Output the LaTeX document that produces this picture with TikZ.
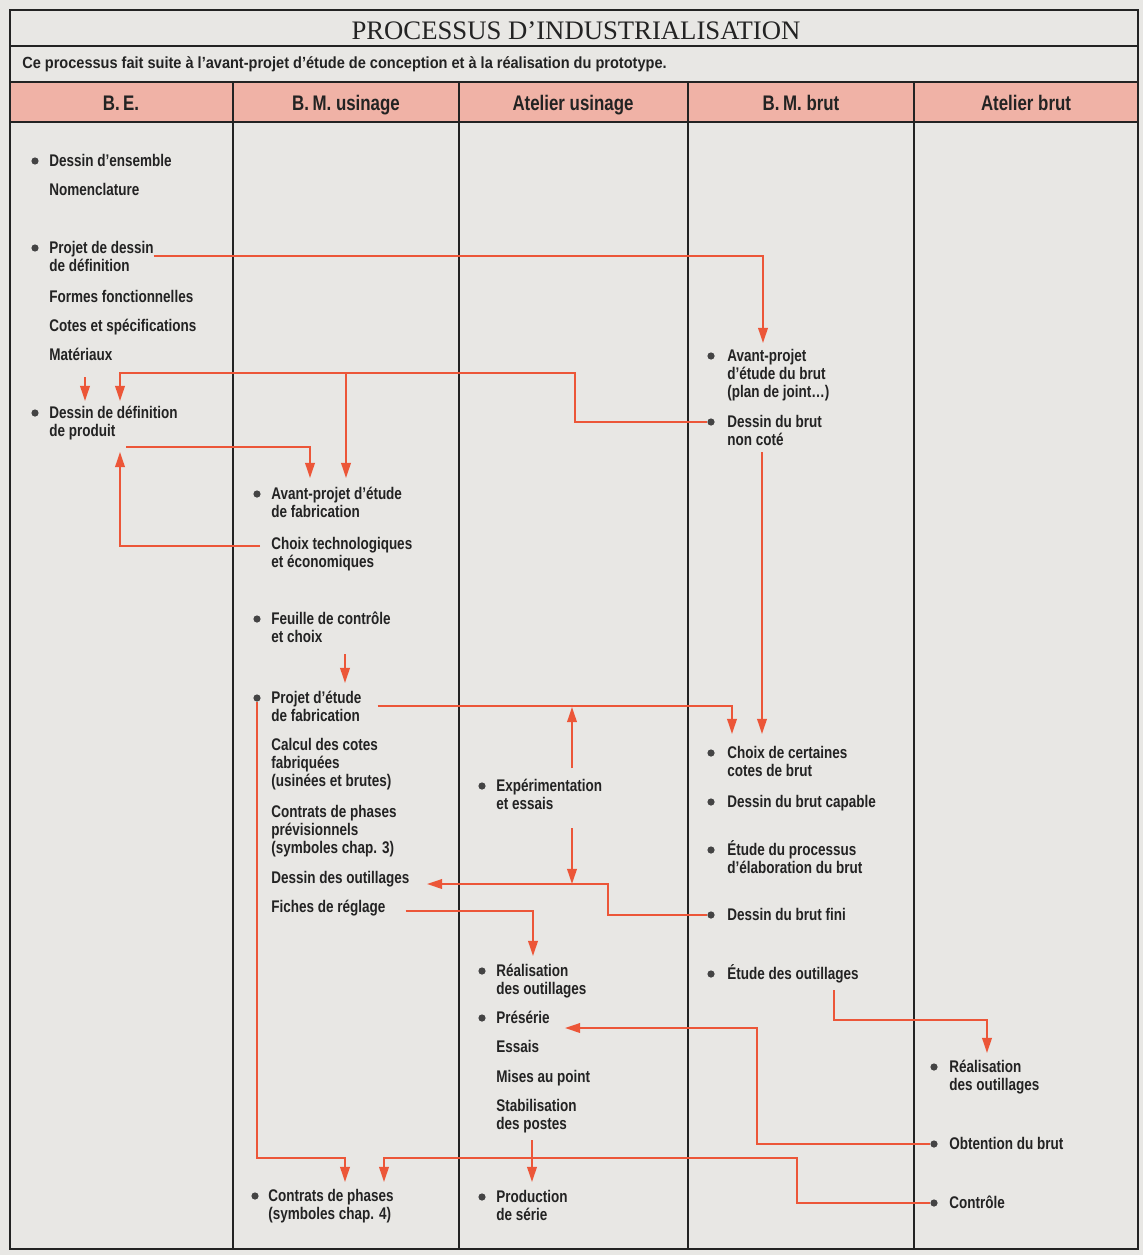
\documentclass[tikz,border=0pt]{standalone}
\usepackage{fontspec}
\setmainfont{Liberation Serif}
\newfontfamily\condsans[FakeStretch=0.8]{Liberation Sans}
\newfontfamily\widesans[FakeStretch=0.9]{Liberation Sans}
\usetikzlibrary{calc}
\usetikzlibrary{arrows.meta}
\definecolor{mypaper}{RGB}{232,231,228}
\definecolor{mypink}{RGB}{240,178,166}
\definecolor{myred}{RGB}{236,86,56}
\definecolor{myink}{RGB}{35,35,35}
\tikzset{>={Triangle[length=3.8mm,width=2.4mm]}}
\tikzset{
    txt/.style={anchor=base west, align=left, inner sep=0pt, text=myink,
        font=\condsans\bfseries\fontsize{12}{12.8}\selectfont},
    head/.style={anchor=base, inner sep=0pt, text=myink,
        font=\condsans\bfseries\fontsize{15}{15}\selectfont},
    dot/.style={circle, fill=myink!85, inner sep=0pt, minimum size=1.8mm},
    flow/.style={->, myred, line width=0.5mm},
    rule/.style={myink, line width=0.7mm},
    sep/.style={myink, line width=0.35mm}
}

\begin{document}
\begin{tikzpicture}[x=0.25mm, y=-0.25mm]

    \fill[mypaper] (0,0) rectangle (1143,1255);
    \fill[mypink] (10,82) rectangle (1138,122);
    \draw[rule] (10,10) rectangle (1138,1249);
    \draw[rule] (10,46) -- (1138,46);
    \draw[rule] (10,82) -- (1138,82);
    \draw[rule] (10,122) -- (1138,122);
    \foreach \cx in {233,459,688,914}
        \draw[sep] (\cx,82) -- (\cx,1249);

    \node[anchor=base, inner sep=0pt, text=myink, font=\fontsize{19}{19}\selectfont] (title) at (576,40) {PROCESSUS D’INDUSTRIALISATION};
    \node[txt, font=\widesans\bfseries\fontsize{11.5}{11.5}\selectfont] (intro) at (22,69) {Ce processus fait suite à l’avant-projet d’étude de conception et à la réalisation du prototype.};

    \node[head] (h1) at (121,110) {B.\,E.};
    \node[head] (h2) at (346,110) {B.\,M. usinage};
    \node[head] (h3) at (573,110) {Atelier usinage};
    \node[head] (h4) at (801,110) {B.\,M. brut};
    \node[head] (h5) at (1026,110) {Atelier brut};

    % B.E. (text nodes sit on the baseline of their last line)
    \node[dot] (ens-b) at (35,161) {};
    \node[txt] (ens) at (49,166) {Dessin d’ensemble};
    \node[txt] (nom) at (49,195) {Nomenclature};
    \node[dot] (pdd-b) at (35,248) {};
    \node[txt] (pdd) at (49,271) {Projet de dessin\\de définition};
    \node[txt] (ffo) at (49,302) {Formes fonctionnelles};
    \node[txt] (cot) at (49,331) {Cotes et spécifications};
    \node[txt] (mat) at (49,360) {Matériaux};
    \node[dot] (ddp-b) at (35,413) {};
    \node[txt] (ddp) at (49,436) {Dessin de définition\\de produit};

    % B.M. usinage
    \node[dot] (apf-b) at (257,494) {};
    \node[txt] (apf) at (271,517) {Avant-projet d’étude\\de fabrication};
    \node[txt] (ctc) at (271,567) {Choix technologiques\\et économiques};
    \node[dot] (fdc-b) at (257,619) {};
    \node[txt] (fdc) at (271,642) {Feuille de contrôle\\et choix};
    \node[dot] (pef-b) at (257,698) {};
    \node[txt] (pef) at (271,721) {Projet d’étude\\de fabrication};
    \node[txt] (cal) at (271,786) {Calcul des cotes\\fabriquées\\(usinées et brutes)};
    \node[txt] (cpp) at (271,853) {Contrats de phases\\prévisionnels\\(symboles chap. 3)};
    \node[txt] (ddo) at (271,883) {Dessin des outillages};
    \node[txt] (fdr) at (271,912) {Fiches de réglage};
    \node[dot] (cph-b) at (255,1196) {};
    \node[txt] (cph) at (268,1219) {Contrats de phases\\(symboles chap. 4)};

    % Atelier usinage
    \node[dot] (exp-b) at (482,786) {};
    \node[txt] (exp) at (496,809) {Expérimentation\\et essais};
    \node[dot] (rea-b) at (482,971) {};
    \node[txt] (rea) at (496,994) {Réalisation\\des outillages};
    \node[dot] (pre-b) at (482,1018) {};
    \node[txt] (pre) at (496,1023) {Présérie};
    \node[txt] (ess) at (496,1052) {Essais};
    \node[txt] (map) at (496,1082) {Mises au point};
    \node[txt] (sta) at (496,1129) {Stabilisation\\des postes};
    \node[dot] (pro-b) at (482,1197) {};
    \node[txt] (pro) at (496,1220) {Production\\de série};

    % B.M. brut
    \node[dot] (apb-b) at (711,356) {};
    \node[txt] (apb) at (727,397) {Avant-projet\\d’étude du brut\\(plan de joint…)};
    \node[dot] (dbn-b) at (711,422) {};
    \node[txt] (dbn) at (727,445) {Dessin du brut\\non coté};
    \node[dot] (ccb-b) at (711,753) {};
    \node[txt] (ccb) at (727,776) {Choix de certaines\\cotes de brut};
    \node[dot] (dbc-b) at (711,802) {};
    \node[txt] (dbc) at (727,807) {Dessin du brut capable};
    \node[dot] (epb-b) at (711,850) {};
    \node[txt] (epb) at (727,873) {Étude du processus\\d’élaboration du brut};
    \node[dot] (dbf-b) at (711,915) {};
    \node[txt] (dbf) at (727,920) {Dessin du brut fini};
    \node[dot] (eto-b) at (711,974) {};
    \node[txt] (eto) at (727,979) {Étude des outillages};

    % Atelier brut
    \node[dot] (rob-b) at (934,1067) {};
    \node[txt] (rob) at (949,1090) {Réalisation\\des outillages};
    \node[dot] (obt-b) at (934,1144) {};
    \node[txt] (obt) at (949,1149) {Obtention du brut};
    \node[dot] (ctl-b) at (934,1203) {};
    \node[txt] (ctl) at (949,1208) {Contrôle};

    % bends and arrow ends
    \coordinate (apb-in) at (763,343);
    \coordinate (kB) at (575,373);
    \coordinate (jB) at (346,373);
    \coordinate (ddp-in) at (120,401);
    \coordinate (mat-out) at (85,377);
    \coordinate (ddp-in1) at (85,401);
    \coordinate (ddp-out) at (126,447);
    \coordinate (ddp-in2) at (120,452);
    \coordinate (apf-in1) at (310,478);
    \coordinate (apf-in2) at (346,478);
    \coordinate (fdc-out) at (345,654);
    \coordinate (pef-in) at (345,683);
    \coordinate (ccb-in1) at (732,734);
    \coordinate (dbn-out) at (762,452);
    \coordinate (ccb-in2) at (762,734);
    \coordinate (exp-up) at (572,768);
    \coordinate (exp-top) at (572,707);
    \coordinate (exp-dn) at (572,828);
    \coordinate (kJ) at (608,884);
    \coordinate (jJ) at (572,884);
    \coordinate (ddo-in) at (427,884);
    \coordinate (rea-in) at (533,956);
    \coordinate (eto-out) at (834,990);
    \coordinate (kL) at (834,1020);
    \coordinate (rob-in) at (987,1053);
    \coordinate (kM) at (757,1028);
    \coordinate (pre-in) at (565,1028);
    \coordinate (kN) at (797,1158);
    \coordinate (cph-in2) at (384,1182);
    \coordinate (kO) at (345,1158);
    \coordinate (cph-in1) at (345,1182);
    \coordinate (pro-out) at (532,1140);
    \coordinate (pro-in) at (532,1182);

    \draw[flow] (pdd.east) -| (apb-in);
    \draw[flow] (dbn-b.west) -| (kB) -| (ddp-in);
    \draw[flow] (jB) -- (apf-in2);
    \draw[flow] (mat-out) -- (ddp-in1);
    \draw[flow] (ddp-out) -| (apf-in1);
    \draw[flow] ([shift={(-11,-21)}]ctc.base west) -| (ddp-in2);
    \draw[flow] (fdc-out) -- (pef-in);
    \draw[flow] ([xshift=4mm]pef.east) -| (ccb-in1);
    \draw[flow] (dbn-out) -- (ccb-in2);
    \draw[flow] (exp-up) -- (exp-top);
    \draw[flow] (exp-dn) -- (jJ);
    \draw[flow] (dbf-b.west) -| (kJ) -- (ddo-in);
    \draw[flow] ([shift={(20,-1)}]fdr.base east) -| (rea-in);
    \draw[flow] (eto-out) -- (kL) -| (rob-in);
    \draw[flow] (obt-b.west) -| (kM) -- (pre-in);
    \draw[flow] (ctl-b.west) -| (kN) -| (cph-in2);
    \draw[flow] (pef-b.south) |- (kO) -- (cph-in1);
    \draw[flow] (pro-out) -- (pro-in);



\end{tikzpicture}
\end{document}
